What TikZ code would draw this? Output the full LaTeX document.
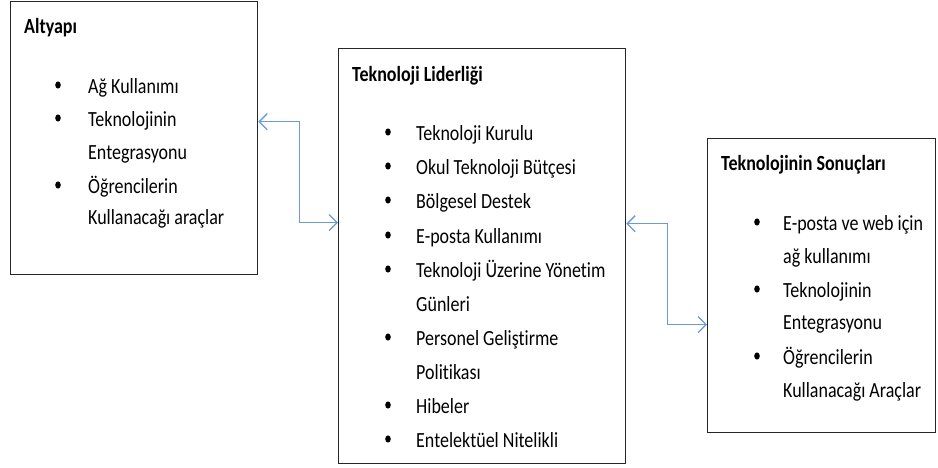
\documentclass[tikz,border=0pt]{standalone}
\usepackage{fontspec}
\usepackage{graphicx}
\setmainfont{Carlito}[Ligatures={NoCommon}]
\usetikzlibrary{arrows.meta}
\definecolor{connblue}{HTML}{6A9BD6}
\newcommand{\vtxt}[1]{\scalebox{1}[1.2]{#1}}
\tikzset{
  box/.style={draw=black!85, line width=1.3pt, minimum width=#1, inner sep=0pt},
  lbl/.style={anchor=base west, inner sep=0pt, font=\fontsize{18}{20}\selectfont, text=black},
  ttl/.style={anchor=base west, inner sep=0pt, font=\fontsize{18}{20}\selectfont\bfseries, text=black},
  conn/.style={draw=connblue, line width=1.3pt, {Straight Barb[length=8pt,width=16pt,line width=1.3pt]}-{Straight Barb[length=8pt,width=16pt,line width=1.3pt]}}
}
\begin{document}
\begin{tikzpicture}[x=1pt,y=1pt]
\useasboundingbox (0,0) rectangle (938,-467);
% boxes
\node[box=247pt, minimum height=273pt, anchor=north west] (L) at (10,-1) {};
\node[box=287pt, minimum height=415pt, anchor=north west] (M) at (338,-48) {};
\node[box=228pt, minimum height=294pt, anchor=north west] (R) at (707,-138) {};
% left box
\node[ttl] (Lt) at (24,-33) {\vtxt{Altyapı}};
\node[lbl] (L1) at (88,-93) {\vtxt{Ağ Kullanımı}};
\node[lbl] (L2) at (88,-126) {\vtxt{Teknolojinin}};
\node[lbl] (L3) at (88,-159) {\vtxt{Entegrasyonu}};
\node[lbl] (L4) at (88,-193) {\vtxt{Öğrencilerin}};
\node[lbl] (L5) at (88,-224) {\vtxt{Kullanacağı araçlar}};
\foreach \y in {93,126,193} {\fill[black] (58,{-\y+8}) ellipse [x radius=2.8, y radius=3.6];}
% middle box
\node[ttl] (Mt) at (352,-81) {\vtxt{Teknoloji Liderliği}};
\node[lbl] (M1) at (416,-140) {\vtxt{Teknoloji Kurulu}};
\node[lbl] (M2) at (416,-174) {\vtxt{Okul Teknoloji Bütçesi}};
\node[lbl] (M3) at (416,-208) {\vtxt{Bölgesel Destek}};
\node[lbl] (M4) at (416,-243) {\vtxt{E-posta Kullanımı}};
\node[lbl] (M5) at (416,-277) {\vtxt{Teknoloji Üzerine Yönetim}};
\node[lbl] (M6) at (416,-311) {\vtxt{Günleri}};
\node[lbl] (M7) at (416,-345) {\vtxt{Personel Geliştirme}};
\node[lbl] (M8) at (416,-379) {\vtxt{Politikası}};
\node[lbl] (M9) at (416,-413) {\vtxt{Hibeler}};
\node[lbl] (M10) at (416,-447) {\vtxt{Entelektüel Nitelikli}};
\foreach \y in {140,174,208,243,277,345,413,447} {\fill[black] (388,{-\y+8}) ellipse [x radius=2.8, y radius=3.6];}
% right box
\node[ttl] (Rt) at (721,-170) {\vtxt{Teknolojinin Sonuçları}};
\node[lbl] (R1) at (783,-230) {\vtxt{E-posta ve web için}};
\node[lbl] (R2) at (783,-263) {\vtxt{ağ kullanımı}};
\node[lbl] (R3) at (783,-297) {\vtxt{Teknolojinin}};
\node[lbl] (R4) at (783,-329) {\vtxt{Entegrasyonu}};
\node[lbl] (R5) at (783,-364) {\vtxt{Öğrencilerin}};
\node[lbl] (R6) at (783,-397) {\vtxt{Kullanacağı Araçlar}};
\foreach \y in {230,297,364} {\fill[black] (757,{-\y+8}) ellipse [x radius=2.8, y radius=3.6];}
% connectors
\draw[conn] ([yshift=16.5pt]L.east) -- ++(41pt,0) |- ([yshift=33.5pt]M.west);
\draw[conn] ([yshift=32.5pt]M.east) -- ++(41pt,0) |- ([yshift=-39pt]R.west);
\end{tikzpicture}
\end{document}
